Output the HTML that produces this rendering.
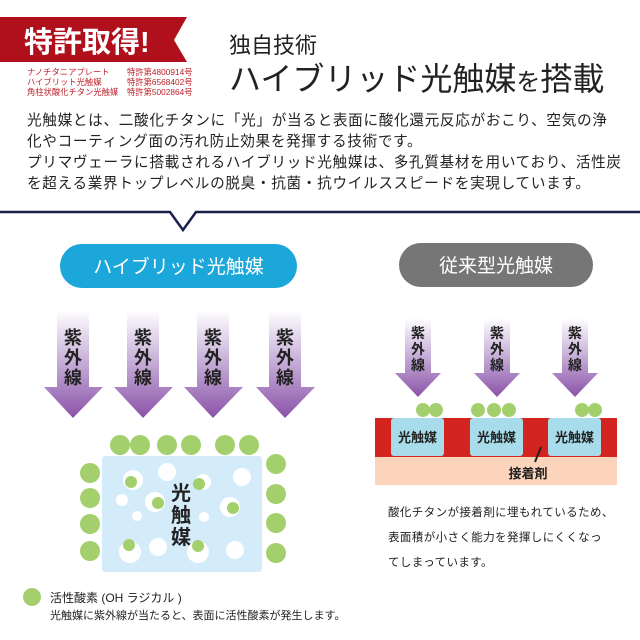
<!DOCTYPE html>
<html><head><meta charset="utf-8"><style>
html,body{margin:0;padding:0;background:#fff;}
svg{display:block;}
text{font-family:"Liberation Sans","Noto Sans CJK JP",sans-serif;}
</style></head><body>
<svg width="640" height="640" viewBox="0 0 640 640" xmlns="http://www.w3.org/2000/svg">
<defs>
<linearGradient id="ag" x1="0" y1="0" x2="0" y2="1">
<stop offset="0" stop-color="#ffffff"/><stop offset="0.45" stop-color="#c9b3da"/><stop offset="1" stop-color="#8b52a8"/>
</linearGradient>
</defs>
<rect width="640" height="640" fill="#fff"/>
<polygon points="0,17 187,17 174,40 187,62 0,62" fill="#b00f1c"/>
<text x="24" y="52" font-size="29" font-weight="bold" fill="#fff">特許取得!</text>
<g font-size="8.3" fill="#c0202a">
<text x="27" y="75">ナノチタニアプレート</text><text x="127" y="75">特許第4800914号</text>
<text x="27" y="85">ハイブリット光触媒</text><text x="127" y="85">特許第6568402号</text>
<text x="27" y="95">角柱状酸化チタン光触媒</text><text x="127" y="95">特許第5002864号</text>
</g>
<text x="229" y="53" font-size="22" fill="#222">独自技術</text>
<text x="229" y="90" font-size="32" fill="#222">ハイブリッド光触媒<tspan font-size="24">を</tspan>搭載</text>
<g font-size="14.6" fill="#222" letter-spacing="0.7">
<text x="27" y="125">光触媒とは、二酸化チタンに「光」が当ると表面に酸化還元反応がおこり、空気の浄</text>
<text x="27" y="146">化やコーティング面の汚れ防止効果を発揮する技術です。</text>
<text x="27" y="167">プリマヴェーラに搭載されるハイブリッド光触媒は、多孔質基材を用いており、活性炭</text>
<text x="27" y="188">を超える業界トップレベルの脱臭・抗菌・抗ウイルススピードを実現しています。</text>
</g>
<polyline points="0,212 170,212 183,230 196,212 640,212" fill="none" stroke="#1b1f4e" stroke-width="2.5"/>
<rect x="60" y="244" width="237" height="44" rx="22" fill="#1ba7da"/>
<text x="178.5" y="273" font-size="19" fill="#fff" text-anchor="middle">ハイブリッド光触媒</text>
<rect x="399" y="243" width="194" height="44" rx="22" fill="#767676"/>
<text x="496" y="272" font-size="19" fill="#fff" text-anchor="middle">従来型光触媒</text>
<g fill="url(#ag)">
<polygon points="57,310 89,310 89,387 103,387 73,418 44,387 57,387"/>
<polygon points="127,310 159,310 159,387 173,387 143,418 114,387 127,387"/>
<polygon points="197,310 229,310 229,387 243,387 213,418 184,387 197,387"/>
<polygon points="269,310 301,310 301,387 315,387 285,418 256,387 269,387"/>
</g>
<g font-size="18" font-weight="bold" fill="#222" text-anchor="middle">
<text x="73" y="344">紫</text><text x="73" y="364">外</text><text x="73" y="384">線</text>
<text x="143" y="344">紫</text><text x="143" y="364">外</text><text x="143" y="384">線</text>
<text x="213" y="344">紫</text><text x="213" y="364">外</text><text x="213" y="384">線</text>
<text x="285" y="344">紫</text><text x="285" y="364">外</text><text x="285" y="384">線</text>
</g>
<g fill="url(#ag)">
<polygon points="405,318 431,318 431,373 441,373 418,397 395,373 405,373"/>
<polygon points="484,318 510,318 510,373 520,373 497,397 474,373 484,373"/>
<polygon points="562,318 588,318 588,373 598,373 575,397 552,373 562,373"/>
</g>
<g font-size="14" font-weight="bold" fill="#222" text-anchor="middle">
<text x="418" y="338">紫</text><text x="418" y="354">外</text><text x="418" y="370">線</text>
<text x="497" y="338">紫</text><text x="497" y="354">外</text><text x="497" y="370">線</text>
<text x="575" y="338">紫</text><text x="575" y="354">外</text><text x="575" y="370">線</text>
</g>
<g fill="#a3d06c">
<circle cx="423" cy="410" r="7"/><circle cx="436" cy="410" r="7"/>
<circle cx="478" cy="410" r="7"/><circle cx="494" cy="410" r="7"/><circle cx="509" cy="410" r="7"/>
<circle cx="582" cy="410" r="7"/><circle cx="595" cy="410" r="7"/>
</g>
<rect x="375" y="418" width="242" height="39" fill="#d3241f"/>
<rect x="375" y="457" width="242" height="28" fill="#fbd4bb"/>
<g fill="#a9dcea"><rect x="391" y="418" width="53" height="38" rx="3"/><rect x="470" y="418" width="53" height="38" rx="3"/><rect x="548" y="418" width="53" height="38" rx="3"/></g>
<g font-size="13" font-weight="bold" fill="#222" text-anchor="middle">
<text x="417.5" y="442">光触媒</text><text x="496.5" y="442">光触媒</text><text x="574.5" y="442">光触媒</text>
<text x="528" y="478">接着剤</text>
</g>
<line x1="541" y1="447" x2="535" y2="462" stroke="#222" stroke-width="2"/>
<g font-size="11.5" fill="#222" letter-spacing="0.4">
<text x="388" y="516">酸化チタンが接着剤に埋もれているため、</text>
<text x="388" y="541">表面積が小さく能力を発揮しにくくなっ</text>
<text x="388" y="566">てしまっています。</text>
</g>
<rect x="102" y="456" width="160" height="116" rx="3" fill="#d4ecfa"/>
<g fill="#a3d06c">
<circle cx="120" cy="445" r="10"/><circle cx="140" cy="445" r="10"/><circle cx="167" cy="445" r="10"/><circle cx="191" cy="445" r="10"/><circle cx="225" cy="445" r="10"/><circle cx="249" cy="445" r="10"/>
<circle cx="90" cy="473" r="10"/><circle cx="90" cy="498" r="10"/><circle cx="90" cy="524" r="10"/><circle cx="90" cy="551" r="10"/>
<circle cx="276" cy="464" r="10"/><circle cx="276" cy="494" r="10"/><circle cx="276" cy="523" r="10"/><circle cx="276" cy="553" r="10"/>
</g>
<g fill="#fff">
<circle cx="133" cy="480" r="10"/><circle cx="167" cy="472" r="9"/><circle cx="203" cy="482" r="8"/><circle cx="242" cy="477" r="9"/>
<circle cx="122" cy="500" r="6"/><circle cx="155" cy="502" r="10"/><circle cx="137" cy="516" r="5"/><circle cx="204" cy="517" r="5"/><circle cx="230" cy="507" r="10"/>
<circle cx="130" cy="552" r="11"/><circle cx="158" cy="547" r="9"/><circle cx="198" cy="552" r="11"/><circle cx="235" cy="550" r="9"/>
</g>
<g fill="#a3d06c">
<circle cx="131" cy="482" r="6"/><circle cx="199" cy="484" r="6"/><circle cx="158" cy="503" r="6"/><circle cx="233" cy="508" r="6"/><circle cx="129" cy="545" r="6"/><circle cx="198" cy="546" r="6"/>
</g>
<g font-size="20" font-weight="bold" fill="#222" text-anchor="middle">
<text x="181" y="500">光</text><text x="181" y="522">触</text><text x="181" y="544">媒</text>
</g>
<circle cx="32" cy="597" r="9" fill="#a3d06c"/>
<text x="50" y="602" font-size="12" fill="#222">活性酸素 (OH ラジカル )</text>
<text x="50" y="619" font-size="11" fill="#222">光触媒に紫外線が当たると、表面に活性酸素が発生します。</text>
</svg>
</body></html>
